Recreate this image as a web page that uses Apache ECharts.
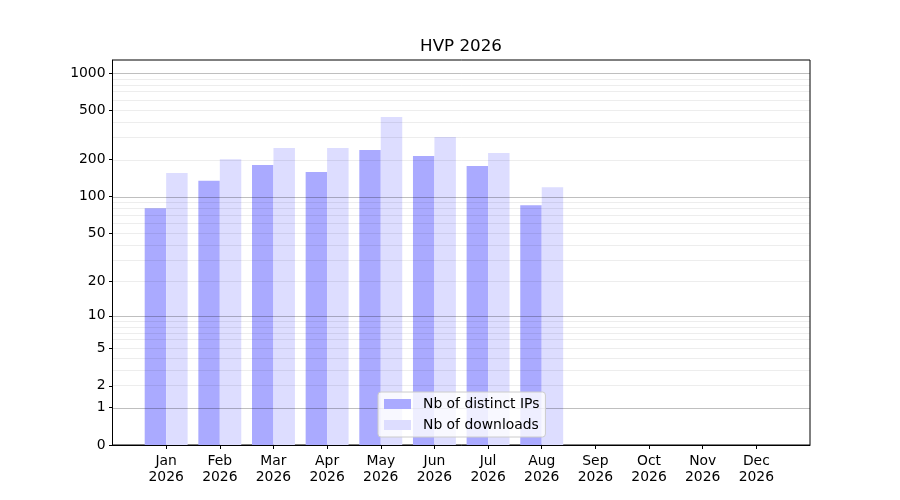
<!DOCTYPE html>
<html>
<head>
<meta charset="utf-8">
<title>HVP 2026</title>
<script src="https://cdn.jsdelivr.net/npm/echarts@6/dist/echarts.min.js"></script>
<style>
    html, body { margin: 0; padding: 0; background: #ffffff; }
    #chart { width: 900px; height: 500px; }
</style>
</head>
<body>
<div id="chart"></div>
<script>
    // data
    var months = ['Jan', 'Feb', 'Mar', 'Apr', 'May', 'Jun', 'Jul', 'Aug', 'Sep', 'Oct', 'Nov', 'Dec'];
    var year = '2026';
    var distinctIps = [80, 134, 180, 158, 238, 213, 177, 85];
    var downloads = [155, 201, 247, 247, 441, 304, 225, 119];
    var yTicks = [0, 1, 2, 5, 10, 20, 50, 100, 200, 500, 1000];
    var majorGrid = [1, 10, 100, 1000];
    var yTop = 1273;

    // y scale is log10(1 + v)
    function tr(v) { return Math.log10(1 + v); }

    var minorGrid = [];
    [1, 10, 100].forEach(function (d) {
        for (var k = 2; k <= 9; k++) minorGrid.push(d * k);
    });

    var font = 'DejaVu Sans';

    // one empty slot before Jan and after Dec, like the matplotlib x limits
    var cats = [''].concat(months.map(function (m) { return m + '\n' + year; }), ['']);

    function padded(arr) {
        var out = [null];
        for (var i = 0; i < months.length; i++) {
            out.push(i < arr.length ? tr(arr[i]) : null);
        }
        out.push(null);
        return out;
    }

    function inner(idx) { return idx > 0 && idx < cats.length - 1; }

    var gridLines = [];
    minorGrid.forEach(function (v) {
        gridLines.push({ yAxis: tr(v), lineStyle: { color: 'rgba(0,0,0,0.07)', width: 1, type: 'solid' } });
    });
    majorGrid.forEach(function (v) {
        gridLines.push({ yAxis: tr(v), lineStyle: { color: 'rgba(0,0,0,0.25)', width: 1, type: 'solid' } });
    });

    var myChart = echarts.init(document.getElementById('chart'));

    var option = {
        animation: false,
        title: {
            text: 'HVP ' + year,
            left: 461,
            top: 38,
            padding: 0,
            textAlign: 'center',
            textStyle: { fontFamily: font, fontSize: 16.7, fontWeight: 'normal', color: '#000000' }
        },
        legend: {
            data: ['Nb of distinct IPs', 'Nb of downloads'],
            orient: 'vertical',
            left: 378,
            top: 392,
            z: 10,
            padding: [5, 6, 5, 6],
            backgroundColor: 'rgba(255,255,255,0.8)',
            borderColor: '#cccccc',
            borderWidth: 1,
            borderRadius: 3,
            icon: 'rect',
            itemWidth: 27,
            itemHeight: 10,
            itemGap: 7,
            selectedMode: false,
            textStyle: { fontFamily: font, fontSize: 13.9, color: '#000000', lineHeight: 14, padding: [0, 0, 0, 7] }
        },
        grid: {
            left: 112.5,
            right: 90,
            top: 60,
            bottom: 55,
            show: true,
            borderColor: '#000000',
            borderWidth: 1,
            backgroundColor: 'transparent',
            containLabel: false
        },
        xAxis: [
            {
                // labels
                type: 'category',
                data: cats,
                boundaryGap: false,
                position: 'bottom',
                splitLine: { show: false },
                axisLine: { show: true, onZero: false, lineStyle: { color: '#000000', width: 1 } },
                axisTick: { show: false },
                axisLabel: {
                    interval: 0,
                    margin: 8,
                    color: '#000000',
                    fontFamily: font,
                    fontSize: 13.9,
                    lineHeight: 16
                }
            },
            {
                // tick marks only
                type: 'category',
                data: cats,
                boundaryGap: false,
                position: 'bottom',
                offset: 0,
                splitLine: { show: false },
                axisLine: { show: false, onZero: false },
                axisTick: { show: true, inside: false, length: 4, interval: inner, lineStyle: { color: '#000000', width: 1 } },
                axisLabel: { show: false }
            }
        ],
        yAxis: {
            type: 'value',
            min: 0,
            max: tr(yTop),
            splitLine: { show: false },
            axisLine: { show: true, onZero: false, lineStyle: { color: '#000000', width: 1 } },
            axisTick: { show: true, inside: false, length: 3.5, customValues: yTicks.map(tr), lineStyle: { color: '#000000', width: 1 } },
            axisLabel: {
                customValues: yTicks.map(tr),
                margin: 7,
                color: '#000000',
                fontFamily: font,
                fontSize: 13.9,
                formatter: function (v) {
                    return String(Math.round(Math.pow(10, v) - 1));
                }
            }
        },
        series: [
            {
                name: 'Nb of distinct IPs',
                type: 'bar',
                xAxisIndex: 0,
                data: padded(distinctIps),
                barWidth: '40%',
                barGap: '0%',
                itemStyle: { color: '#aaaaff' }
            },
            {
                name: 'Nb of downloads',
                type: 'bar',
                xAxisIndex: 0,
                data: padded(downloads),
                barWidth: '40%',
                barGap: '0%',
                itemStyle: { color: '#ddddff' },
                markLine: {
                    silent: true,
                    symbol: ['none', 'none'],
                    label: { show: false },
                    emphasis: { disabled: true },
                    data: gridLines
                }
            }
        ]
    };

    myChart.setOption(option);
    window.addEventListener('resize', function () { myChart.resize(); });
</script>
</body>
</html>
